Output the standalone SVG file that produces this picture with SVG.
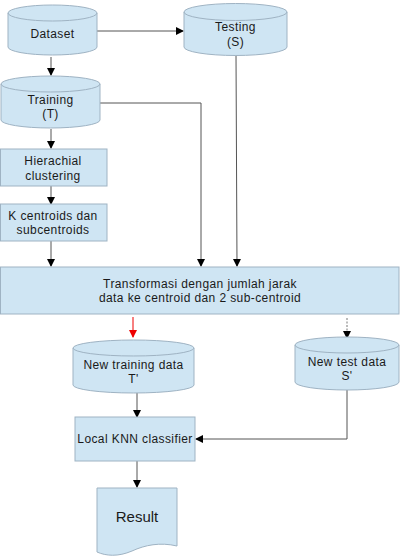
<svg xmlns="http://www.w3.org/2000/svg" width="400" height="556" viewBox="0 0 400 556">
<defs>
<style>
.s{fill:#cfe5f3;stroke:#9fb3c3;stroke-width:1}
.e{fill:none;stroke:#9fb3c3;stroke-width:1}
.t{font-family:"Liberation Sans",Arial,sans-serif;font-size:12px;fill:#1a1a1a;text-anchor:middle;letter-spacing:0.4px}
.c{fill:none;stroke:#555;stroke-width:1}
</style>
<marker id="a" markerWidth="8" markerHeight="10" refX="7" refY="5" orient="auto" markerUnits="userSpaceOnUse"><path d="M0,1 L8,5 L0,9 Z" fill="#000"/></marker>
<marker id="r" markerWidth="8" markerHeight="10" refX="7" refY="5" orient="auto" markerUnits="userSpaceOnUse"><path d="M0,1 L8,5 L0,9 Z" fill="#e00"/></marker>
</defs>
<rect width="400" height="556" fill="#fff"/>
<g id="connectors">
<path class="c" d="M97,31 H183" marker-end="url(#a)"/>
<path class="c" d="M51,57 V75" marker-end="url(#a)"/>
<path class="c" d="M100,103 H201 V266" marker-end="url(#a)"/>
<path class="c" d="M236,55 L237,266" stroke="#777" marker-end="url(#a)"/>
<path class="c" d="M51,129 V148" marker-end="url(#a)"/>
<path class="c" d="M51,186 V204" marker-end="url(#a)"/>
<path class="c" d="M51,241 V266" marker-end="url(#a)"/>
<path d="M133,317 V337" stroke="#e00" stroke-width="1" fill="none" marker-end="url(#r)"/>
<path d="M347,318 V338" stroke="#777" stroke-width="1" stroke-dasharray="2,1.5" fill="none" marker-end="url(#a)"/>
<path class="c" d="M137,393 V417" marker-end="url(#a)"/>
<path class="c" d="M347,390 V439 H196" marker-end="url(#a)"/>
<path class="c" d="M137,461 V487" marker-end="url(#a)"/>
</g>
<g id="dataset">
<path class="s" d="M8,13 A44.5,8 0 0 1 97,13 V47 A44.5,8 0 0 1 8,47 Z"/>
<path class="e" d="M8,13 A44.5,8 0 0 0 97,13"/>
<text class="t" x="52.5" y="38">Dataset</text>
</g>
<g id="testing">
<path class="s" d="M184,12 A51.5,8.5 0 0 1 287,12 V47 A51.5,8.5 0 0 1 184,47 Z"/>
<path class="e" d="M184,12 A51.5,8.5 0 0 0 287,12"/>
<text class="t" x="235.5" y="31">Testing</text>
<text class="t" x="235.5" y="46">(S)</text>
</g>
<g id="training">
<path class="s" d="M1,84 A49.5,8 0 0 1 100,84 V120 A49.5,8 0 0 1 1,120 Z"/>
<path class="e" d="M1,84 A49.5,8 0 0 0 100,84"/>
<text class="t" x="50.5" y="104">Training</text>
<text class="t" x="50.5" y="118">(T)</text>
</g>
<g id="hierachial">
<rect class="s" x="0.5" y="149" width="106.5" height="37"/>
<text class="t" x="53" y="165">Hierachial</text>
<text class="t" x="53" y="180">clustering</text>
</g>
<g id="kcentroids">
<rect class="s" x="0.5" y="204" width="106.5" height="37"/>
<text class="t" x="53" y="220">K centroids dan</text>
<text class="t" x="53" y="234">subcentroids</text>
</g>
<g id="transformasi">
<rect class="s" x="0.5" y="267" width="398.5" height="47"/>
<text class="t" x="200" y="288">Transformasi dengan jumlah jarak</text>
<text class="t" x="200" y="302">data ke centroid dan 2 sub-centroid</text>
</g>
<g id="newtraining">
<path class="s" d="M73,348 A60.5,8 0 0 1 194,348 V385 A60.5,8 0 0 1 73,385 Z"/>
<path class="e" d="M73,348 A60.5,8 0 0 0 194,348"/>
<text class="t" x="133.5" y="369">New training data</text>
<text class="t" x="133.5" y="383">T'</text>
</g>
<g id="newtest">
<path class="s" d="M295,345 A52,8 0 0 1 399,345 V382 A52,8 0 0 1 295,382 Z"/>
<path class="e" d="M295,345 A52,8 0 0 0 399,345"/>
<text class="t" x="347" y="366">New test data</text>
<text class="t" x="347" y="380">S'</text>
</g>
<g id="knn">
<rect class="s" x="75" y="417" width="120" height="44"/>
<text class="t" x="135" y="443">Local KNN classifier</text>
</g>
<g id="result">
<path class="s" d="M97,488 H177 V546 C160,542 145,545 132,551 C118,557 106,556 97,552 Z"/>
<text class="t" x="137" y="522" style="font-size:15px;letter-spacing:0">Result</text>
</g>
</svg>
